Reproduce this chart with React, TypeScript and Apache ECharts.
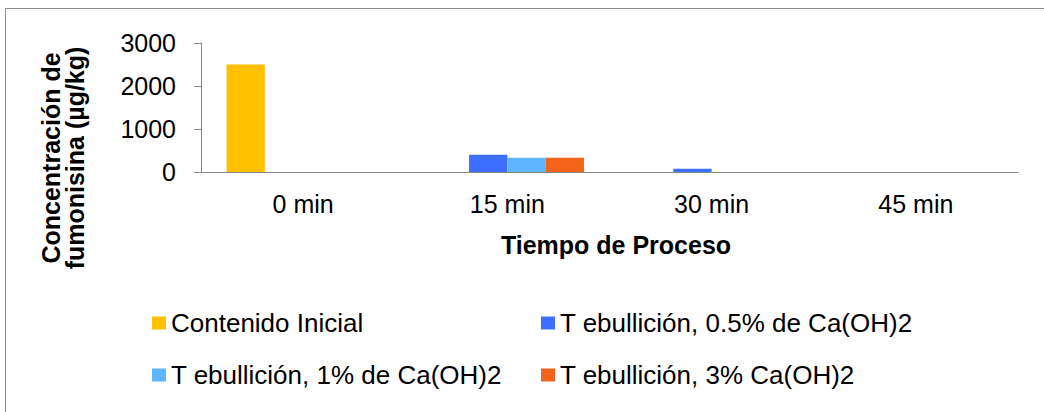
import React, { useEffect, useRef } from "react";
import * as echarts from "echarts";

const categories = ["0 min", "15 min", "30 min", "45 min"];
const seriesNames = [
  "Contenido Inicial",
  "T ebullición, 0.5% de Ca(OH)2",
  "T ebullición, 1% de Ca(OH)2",
  "T ebullición, 3% Ca(OH)2",
];
const contenidoInicial = [2500, 0, 0, 0];
const ebullicion05 = [0, 400, 75, 0];
const ebullicion1 = [0, 330, 0, 0];
const ebullicion3 = [0, 330, 0, 0];
const seriesColors = ["#FFC000", "#3D6EFD", "#5FB5FF", "#F4631A"];
const yTitle = "Concentración de\nfumonisina (µg/kg)";
const xTitle = "Tiempo de Proceso";

const FONT = "'Liberation Sans', Arial, sans-serif";

export default function App() {
  const ref = useRef<HTMLDivElement>(null);
  useEffect(() => {
    document.body.style.margin = "0";
    const chart = echarts.init(ref.current!, null, { renderer: "svg" });
    const values = [contenidoInicial, ebullicion05, ebullicion1, ebullicion3];
    const legendPos = [
      { left: 152, top: 310 },
      { left: 541, top: 310 },
      { left: 152, top: 362 },
      { left: 541, top: 362 },
    ];
    chart.setOption({
      animation: false,
      textStyle: { fontFamily: FONT },
      grid: { left: 201, right: 26, top: 43, bottom: 240, containLabel: false },
      xAxis: {
        type: "category",
        data: categories,
        axisLine: { show: true, lineStyle: { color: "#888888", width: 1 } },
        axisTick: { show: false },
        axisLabel: { color: "#000", fontSize: 25, margin: 19, fontFamily: FONT },
        splitLine: { show: false },
      },
      yAxis: {
        type: "value",
        min: 0,
        max: 3000,
        interval: 1000,
        axisLine: { show: true, lineStyle: { color: "#888888", width: 1 } },
        axisTick: { show: true, length: 7, lineStyle: { color: "#888888" } },
        axisLabel: {
          color: "#000",
          fontSize: 25,
          margin: 25,
          fontFamily: FONT,
          formatter: (v: number) => String(v),
        },
        splitLine: { show: false },
      },
      legend: seriesNames.map((n, i) => ({
        data: [n],
        left: legendPos[i].left,
        top: legendPos[i].top,
        padding: 0,
        icon: "rect",
        itemWidth: 14,
        itemHeight: 13,
        selectedMode: false,
        textStyle: { color: "#000", fontSize: 26, fontFamily: FONT },
      })),
      series: seriesNames.map((n, i) => ({
        name: n,
        type: "bar",
        data: values[i],
        barGap: "0%",
        barCategoryGap: "25%",
        itemStyle: { color: seriesColors[i] },
      })),
      graphic: [
        {
          type: "rect",
          shape: { x: 5.5, y: 8.5, width: 1100, height: 500 },
          style: { fill: "none", stroke: "#8c8c8c", lineWidth: 1 },
          silent: true,
          z: -10,
        },
        {
          type: "text",
          x: 616,
          y: 245,
          style: {
            text: xTitle,
            fill: "#000",
            font: `bold 25px ${FONT}`,
            align: "center",
            verticalAlign: "middle",
          },
        },
        {
          type: "text",
          x: 63,
          y: 158,
          rotation: Math.PI / 2,
          style: {
            text: yTitle,
            fill: "#000",
            font: `bold 25px ${FONT}`,
            align: "center",
            verticalAlign: "middle",
            lineHeight: 24,
          },
        },
      ],
    });
    return () => chart.dispose();
  }, []);
  return <div ref={ref} style={{ width: 1044, height: 412 }} />;
}
